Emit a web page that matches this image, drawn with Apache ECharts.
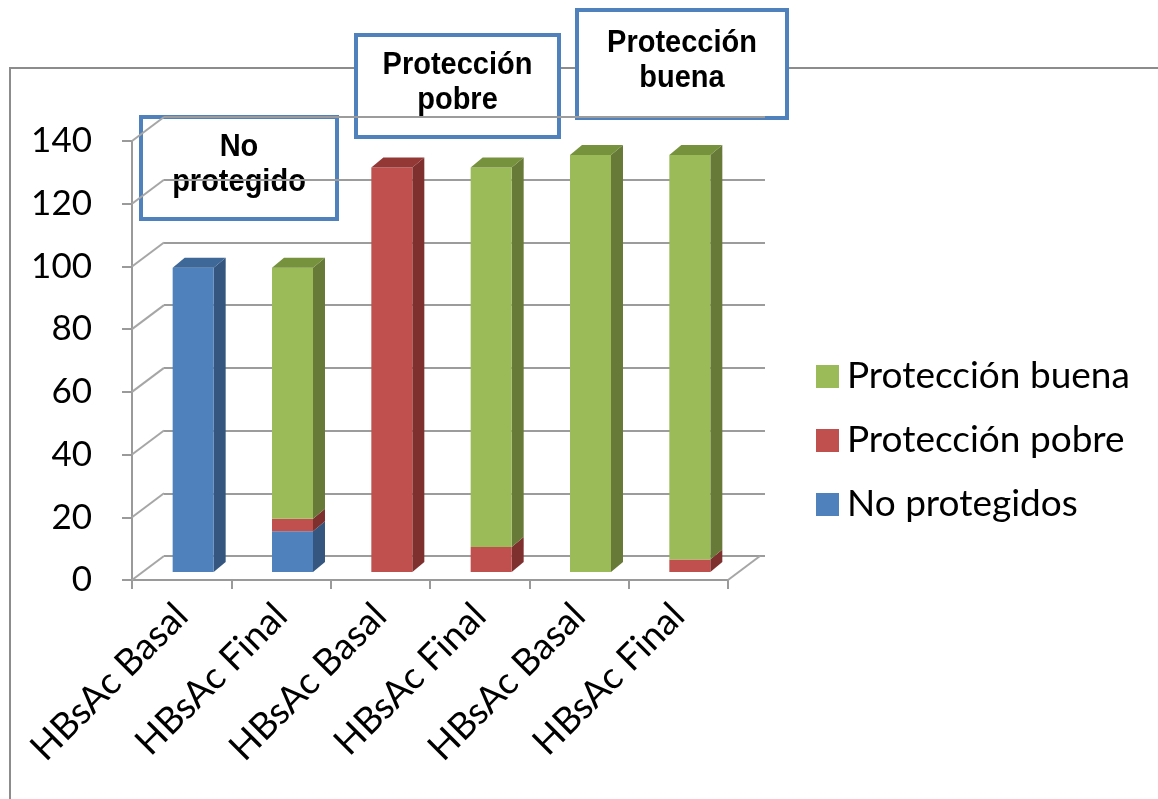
<!DOCTYPE html>
<html>
<head>
<meta charset="utf-8">
<script src="https://cdn.jsdelivr.net/npm/echarts@6/dist/echarts.min.js"></script>
<style>html,body{margin:0;padding:0;background:#fff;}#c{width:1158px;height:799px;}</style>
</head>
<body>
<div id="c"></div>
<script>
const categories = ['HBsAc Basal', 'HBsAc Final', 'HBsAc Basal', 'HBsAc Final', 'HBsAc Basal', 'HBsAc Final'];
const noProtegidos = [97, 13, 0, 0, 0, 0];
const proteccionPobre = [0, 4, 129, 8, 0, 4];
const proteccionBuena = [0, 80, 0, 121, 133, 129];
const yTicks = [0, 20, 40, 60, 80, 100, 120, 140];
const seriesNames = ['No protegidos', 'Protección pobre', 'Protección buena'];
const boxTexts = ['No\nprotegido', 'Protección\npobre', 'Protección\nbuena'];

const stack = [noProtegidos, proteccionPobre, proteccionBuena];
const faceColors = [
  { front: '#4f81bd', side: '#34567f', top: '#3e6898' },
  { front: '#c0504d', side: '#7e302e', top: '#943836' },
  { front: '#9bbb59', side: '#677a38', top: '#76923c' }
];

// geometry of the pseudo-3D look (styling only)
const FRONT_DX = -9, BAR_W = 41, FRONT_DY = -8, DEPTH_X = 12, DEPTH_Y = 10;
const WALL_DX = 32, WALL_DY = -24;

function barRenderer(k) {
  return function (params, api) {
    const i = params.dataIndex;
    const v = api.value(1);
    if (!v) return;
    let base = 0;
    for (let s = 0; s < k; s++) base += stack[s][i];
    const top = base + v;
    let isTop = true;
    for (let s = k + 1; s < stack.length; s++) if (stack[s][i] > 0) isTop = false;
    const pB = api.coord([i, base]);
    const pT = api.coord([i, top]);
    const x0 = pB[0] + FRONT_DX, x1 = x0 + BAR_W;
    const yB = pB[1] + FRONT_DY, yT = pT[1] + FRONT_DY;
    const c = faceColors[k];
    const children = [
      { type: 'polygon', shape: { points: [[x1, yB], [x1 + DEPTH_X, yB - DEPTH_Y], [x1 + DEPTH_X, yT - DEPTH_Y], [x1, yT]] }, style: { fill: c.side } },
      { type: 'rect', shape: { x: x0, y: yT, width: BAR_W, height: yB - yT }, style: { fill: c.front } }
    ];
    if (isTop) {
      children.push({ type: 'polygon', shape: { points: [[x0, yT], [x1, yT], [x1 + DEPTH_X, yT - DEPTH_Y], [x0 + DEPTH_X, yT - DEPTH_Y]] }, style: { fill: c.top } });
    }
    return { type: 'group', children: children };
  };
}

function wallRenderer(params, api) {
  const t = api.value(1);
  const band = api.size([1, 0])[0];
  const pL = api.coord([0, t]);
  const xl = pL[0] - band / 2;
  const y = pL[1];
  const children = [
    { type: 'line', shape: { x1: xl, y1: y, x2: xl + WALL_DX, y2: y + WALL_DY }, style: { stroke: '#a6a6a6', lineWidth: 2 } }
  ];
  if (t === 0) {
    const pR = api.coord([categories.length - 1, 0]);
    const xr = pR[0] + band / 2;
    children.push({ type: 'line', shape: { x1: xr, y1: y, x2: xr + WALL_DX, y2: y + WALL_DY }, style: { stroke: '#a6a6a6', lineWidth: 2 } });
  }
  return { type: 'group', children: children };
}

const chart = echarts.init(document.getElementById('c'), null, { renderer: 'canvas' });

const series = [
  {
    name: 'wall', type: 'custom', xAxisIndex: 0, yAxisIndex: 0, z: 1,
    renderItem: wallRenderer, silent: true,
    data: yTicks.map(t => [0, t]), encode: { x: 0, y: 1 }
  }
];
stack.forEach((arr, k) => {
  series.push({
    name: seriesNames[k], type: 'custom', xAxisIndex: 0, yAxisIndex: 0, z: 3 + k,
    renderItem: barRenderer(k),
    itemStyle: { color: faceColors[k].front },
    data: arr.map((v, i) => [i, v]), encode: { x: 0, y: 1 }
  });
});

const boxes = [
  { x: 141, y: 117, w: 196, h: 102 },
  { x: 356, y: 35, w: 203, h: 102 },
  { x: 577, y: 10, w: 210, h: 108 }
];

chart.setOption({
  animation: false,
  backgroundColor: '#fff',
  grid: [
    { left: 132, right: 430, top: 141, bottom: 219 },
    { left: 164, right: 393, top: 117, bottom: 243 }
  ],
  xAxis: [
    {
      gridIndex: 0, type: 'category', data: categories, boundaryGap: true,
      axisLine: { show: true, lineStyle: { color: '#9a9a9a', width: 2 } },
      axisTick: { show: true, alignWithLabel: false, length: 9, lineStyle: { color: '#9a9a9a', width: 2 } },
      axisLabel: { rotate: 45, interval: 0, margin: 30, color: '#000', fontSize: 37, fontFamily: 'Lato' },
      splitLine: { show: false }
    },
    {
      gridIndex: 1, type: 'value', min: 0, max: 1, show: false
    }
  ],
  yAxis: [
    {
      gridIndex: 0, type: 'value', min: 0, max: 140, interval: 20,
      axisLine: { show: true, lineStyle: { color: '#9a9a9a', width: 2 } },
      axisTick: { show: true, length: 10, lineStyle: { color: '#9a9a9a', width: 2 } },
      axisLabel: { margin: 40, color: '#000', fontSize: 35, fontFamily: 'Lato',
        formatter: function (v) { return yTicks.indexOf(v) >= 0 ? String(v) : ''; } },
      splitLine: { show: false }
    },
    {
      gridIndex: 1, type: 'value', min: 0, max: 140, interval: 20,
      axisLine: { show: false }, axisTick: { show: false }, axisLabel: { show: false },
      splitLine: { show: true, lineStyle: { color: '#9c9c9c', width: 2 } }
    }
  ],
  legend: {
    data: ['Protección buena', 'Protección pobre', 'No protegidos'],
    orient: 'vertical', left: 811, top: 351,
    icon: 'rect', itemWidth: 23, itemHeight: 23, itemGap: 23,
    textStyle: { fontSize: 37, fontFamily: 'Lato', color: '#000', lineHeight: 41, padding: [0, 0, 0, 3] },
    selectedMode: false
  },
  graphic: [
    { type: 'rect', z: 0, silent: true, shape: { x: 10, y: 68, width: 1300, height: 900 }, style: { fill: 'none', stroke: '#8c8c8c', lineWidth: 2 } }
  ].concat(boxes.map((b, j) => ({
    type: 'group', z: 100,
    children: [
      { type: 'rect', shape: { x: b.x, y: b.y, width: b.w, height: b.h }, style: { fill: '#fff', stroke: '#4f81bd', lineWidth: 4 } },
      { type: 'text', x: b.x + b.w / 2, y: b.y + b.h / 2 - 3, scaleY: 1.08,
        style: { text: boxTexts[j], x: 0, y: 0, align: 'center', verticalAlign: 'middle',
        fontFamily: 'Liberation Sans', fontWeight: 'bold', fontSize: 29, lineHeight: 33, fill: '#000' } }
    ]
  }))),
  series: series
});
</script>
</body>
</html>
